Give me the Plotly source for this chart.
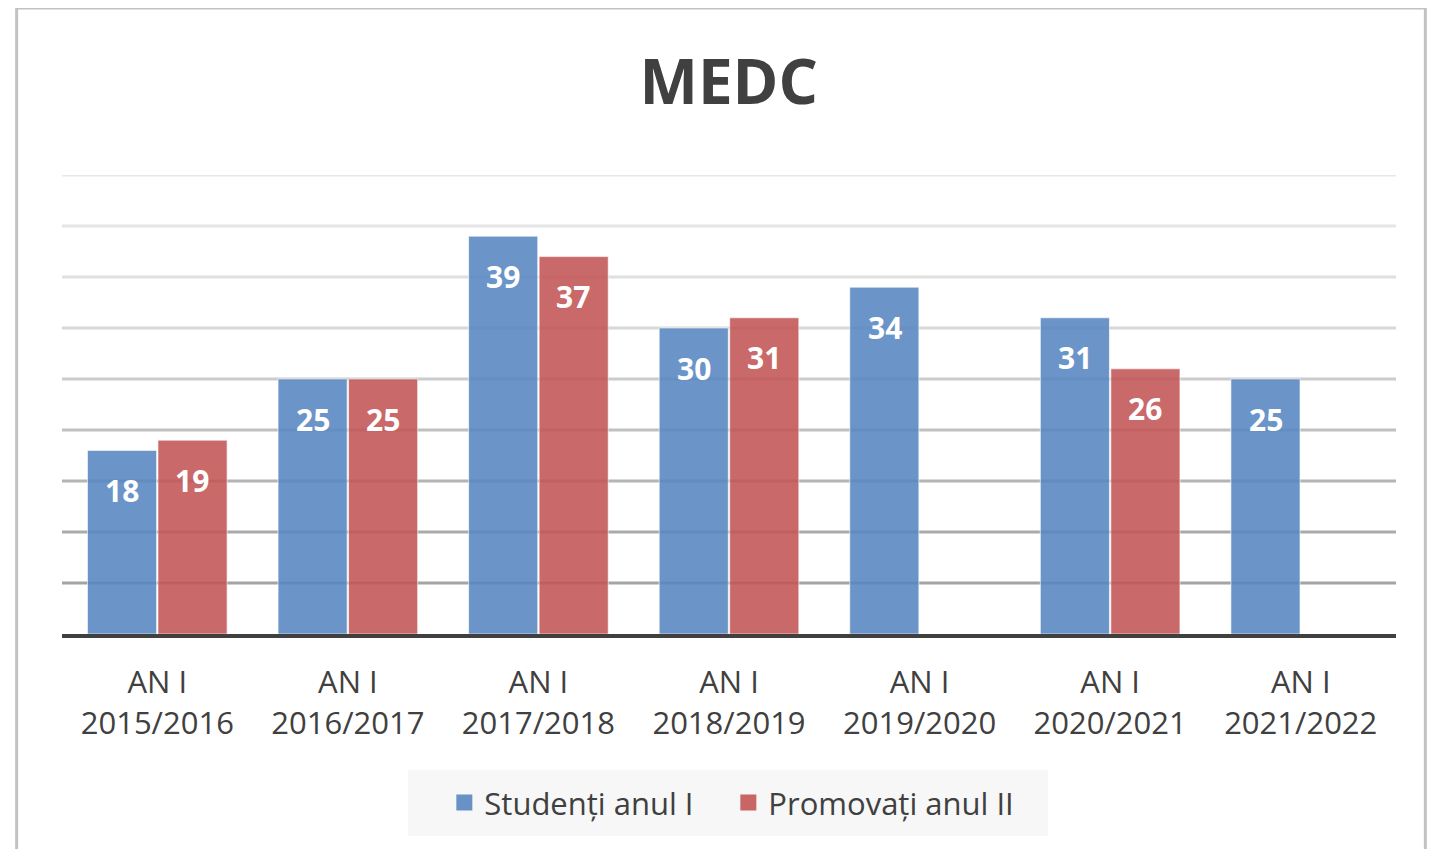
import plotly.graph_objects as go

# data
categories = ["AN I<br>2015/2016", "AN I<br>2016/2017", "AN I<br>2017/2018", "AN I<br>2018/2019",
              "AN I<br>2019/2020", "AN I<br>2020/2021", "AN I<br>2021/2022"]
studenti = [18, 25, 39, 30, 34, 31, 25]
promovati = [19, 25, 37, 31, None, 26, None]

grid_values = [5, 10, 15, 20, 25, 30, 35, 40, 45]
grid_colors = ["#a4a4a4", "#aaaaaa", "#b4b4b4", "#c0c0c0", "#cccccc",
               "#d8d8d8", "#e0e0e0", "#e5e5e5", "#e8e8e8"]

BLUE = "rgba(87,134,192,0.88)"
RED = "rgba(194,84,84,0.88)"
BLUE_KEY = "#6892c6"
RED_KEY = "#c86565"

fig = go.Figure()
fig.add_trace(go.Bar(x=categories, y=studenti, name="Studenți anul I", showlegend=False,
                     marker=dict(color=BLUE, line=dict(color="rgba(255,255,255,0.6)", width=1))))
fig.add_trace(go.Bar(x=categories, y=promovati, name="Promovați anul II", showlegend=False,
                     marker=dict(color=RED, line=dict(color="rgba(255,255,255,0.6)", width=1))))

# legend keys (bigger squares than the default bar icon)
for name, col in (("Studenți anul I", BLUE_KEY), ("Promovați anul II", RED_KEY)):
    fig.add_trace(go.Scatter(x=[None], y=[None], mode="markers", name=name,
                             marker=dict(symbol="square", size=16, color=col)))

# data labels, "inside end" like Excel
for series, shift in ((studenti, -35), (promovati, 35)):
    for cat, val in zip(categories, series):
        if val is None:
            continue
        fig.add_annotation(x=cat, y=val, text=f"<b>{val}</b>", showarrow=False,
                           xshift=shift, yshift=-40,
                           font=dict(family="Open Sans", size=30, color="white"))

# gridlines that fade towards the top
for val, col in zip(grid_values, grid_colors):
    fig.add_shape(type="line", xref="paper", yref="y", x0=0, x1=1, y0=val, y1=val,
                  line=dict(color=col, width=3), layer="below")

# outer chart frame and legend panel
fig.add_shape(type="rect", xref="paper", yref="paper", x0=-0.034, x1=1.022, y0=-0.6, y1=1.364,
              line=dict(color="#c2c2c2", width=3), layer="below")
fig.add_shape(type="rect", xref="paper", yref="paper", x0=0.2594, x1=0.739, y0=-0.440, y1=-0.296,
              line=dict(width=0), fillcolor="#f7f7f7", layer="below")

fig.update_layout(
    width=1430, height=841,
    margin=dict(l=54, r=42, t=167, b=215),
    paper_bgcolor="white", plot_bgcolor="white",
    barmode="group", bargap=0.26, bargroupgap=0.02,
    title=dict(text="<b>MEDC</b>", x=0.504, xanchor="center", y=1 - 74 / 841, yanchor="middle",
               font=dict(family="Open Sans", size=62, color="#404040")),
    font=dict(family="Open Sans", color="#404040"),
    showlegend=True,
    legend=dict(orientation="h", x=0.4995, xanchor="center", y=-0.368, yanchor="middle",
                bgcolor="rgba(0,0,0,0)", font=dict(size=31, color="#404040"),
                itemsizing="trace", traceorder="normal", entrywidth=239),
)
fig.update_xaxes(showgrid=False, showline=True, linecolor="#404040", linewidth=4,
                 tickfont=dict(family="Open Sans", size=31, color="#404040"),
                 ticks="outside", ticklen=18, tickcolor="rgba(0,0,0,0)")
fig.update_yaxes(range=[0, 45], showgrid=False, showticklabels=False, zeroline=False)

fig.write_html("out.html")
